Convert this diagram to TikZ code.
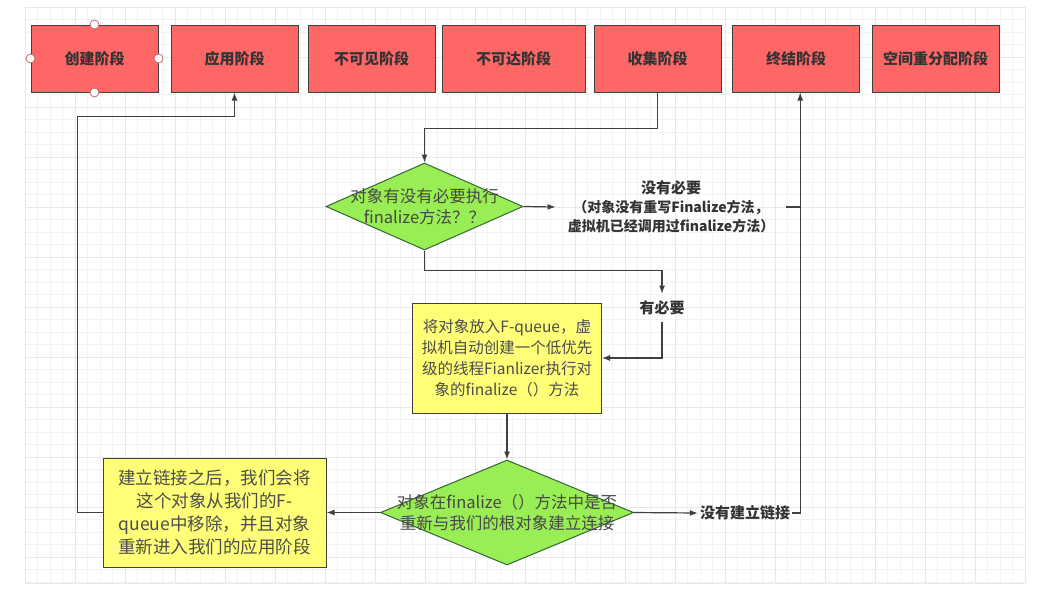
\documentclass[tikz,border=0pt]{standalone}
\usepackage{fontspec}
\setmainfont{Noto Sans CJK SC}
\usetikzlibrary{arrows.meta,shapes.geometric}

\definecolor{stagered}{RGB}{255,102,102}
\definecolor{notey}{RGB}{255,255,119}
\definecolor{checkg}{RGB}{153,238,85}
\definecolor{ink}{RGB}{64,64,64}
\definecolor{handlec}{RGB}{190,110,110}

\begin{document}
\begin{tikzpicture}[>={Latex[length=8pt,width=6pt]},x=1pt,y=-1pt,
  gridminor/.style={draw=gray!10,line width=0.6pt},
  gridmajor/.style={draw=gray!18,line width=0.7pt},
  stage/.style={draw=ink,line width=1pt,fill=stagered,minimum width=127pt,minimum height=67pt,
    font=\fontsize{15}{18}\selectfont\bfseries,text=black!80},
  check/.style={diamond,draw=ink!80!green,line width=1pt,fill=checkg,inner sep=0pt},
  checktext/.style={align=center,font=\fontsize{16.5}{21}\selectfont,text=black!72},
  note/.style={draw=ink,line width=1pt,fill=notey,align=center,text=black!70},
  tag/.style={align=center,font=\fontsize{15}{19}\selectfont\bfseries,text=black!80},
  flow/.style={draw=ink,line width=1.2pt},
  handle/.style={circle,draw=handlec,fill=white,line width=0.8pt,minimum size=9pt,inner sep=0pt}]

\useasboundingbox (0,0) rectangle (1056,600);
\fill[white] (0,0) rectangle (1056,600);

% background grid
\foreach \i in {0,...,80} \draw[gridminor] ({25+12.5*\i},7) -- ({25+12.5*\i},583);
\foreach \j in {0,...,46} \draw[gridminor] (25,{7+12.5*\j}) -- (1025,{7+12.5*\j});
\foreach \i in {0,...,20} \draw[gridmajor] ({25+50*\i},7) -- ({25+50*\i},583);
\foreach \j in {0,...,11} \draw[gridmajor] (25,{7+50*\j}) -- (1025,{7+50*\j});
\draw[gridmajor] (25,583) -- (1025,583);

% stages
\node[stage] (b1) at (94.5,58.5) {创建阶段};
\node[stage] (b2) at (234.5,58.5) {应用阶段};
\node[stage] (b3) at (371.5,58.5) {不可见阶段};
\node[stage,minimum width=143pt] (b4) at (513.5,58.5) {不可达阶段};
\node[stage] (b5) at (657.5,58.5) {收集阶段};
\node[stage] (b6) at (796,58.5) {终结阶段};
\node[stage] (b7) at (935.5,58.5) {空间重分配阶段};

% selection handles
\node[handle] (hn) at (b1.north) {};
\node[handle] (hs) at (b1.south) {};
\node[handle] (hw) at (b1.west) {};
\node[handle] (he) at (b1.east) {};

% decisions
\node[check,minimum width=197pt,minimum height=87pt] (d1) at (424.5,206.5) {};
\node[checktext] (d1t) at (d1.center) {对象有没有必要执行\\finalize方法？？};
\node[check,minimum width=253pt,minimum height=105pt] (d2) at (507,512.5) {};
\node[checktext] (d2t) at (d2.center) {对象在finalize（）方法中是否\\重新与我们的根对象建立连接};

% notes
\node[note,minimum width=189pt,minimum height=110pt,font=\fontsize{15.5}{21}\selectfont] (y1) at (507,358)
  {将对象放入F-queue，虚\\拟机自动创建一个低优先\\级的线程Fianlizer执行对\\象的finalize（）方法};
\node[note,minimum width=223pt,minimum height=109pt,font=\fontsize{17.5}{23}\selectfont] (y2) at (214.5,512.5)
  {建立链接之后，我们会将\\这个对象从我们的F-\\queue中移除，并且对象\\重新进入我们的应用阶段};

% labels
\node[tag,inner xsep=12pt] (t1) at (671,207)
  {没有必要\\{\fontsize{14}{19.5}\selectfont（对象没有重写Finalize方法，}\\{\fontsize{14}{19.5}\selectfont 虚拟机已经调用过finalize方法）}};
\node[tag,inner ysep=7pt] (t3) at (662,308) {有必要};
\node[tag,inner xsep=2pt] (t2) at (745,513) {没有建立链接};

% connectors
\draw[flow,->] (b5.south) -- ++(0,36) -| (d1.north);
\draw[flow,->] (d1.east) -- (t1.west);
\draw[flow,->] (d1.south) -- ++(0,20) -| (t3.north);
\draw[flow,->] (t3.south) |- (y1.east);
\draw[flow,->] (y1.south) -- (d2.north);
\draw[flow,->] (d2.west) -- (y2.east);
\draw[flow,->] (d2.east) -- (t2.west);
\draw[flow,->] (t2.east) -- ++(8,0) coordinate (rt) -- (rt |- b6.south);
\draw[flow] (t1.east) -- (t1.east -| rt);
\draw[flow,->] (y2.west) -- ++(-25,0) |- ([yshift=-24pt]b2.south) -- (b2.south);
\end{tikzpicture}
\end{document}
